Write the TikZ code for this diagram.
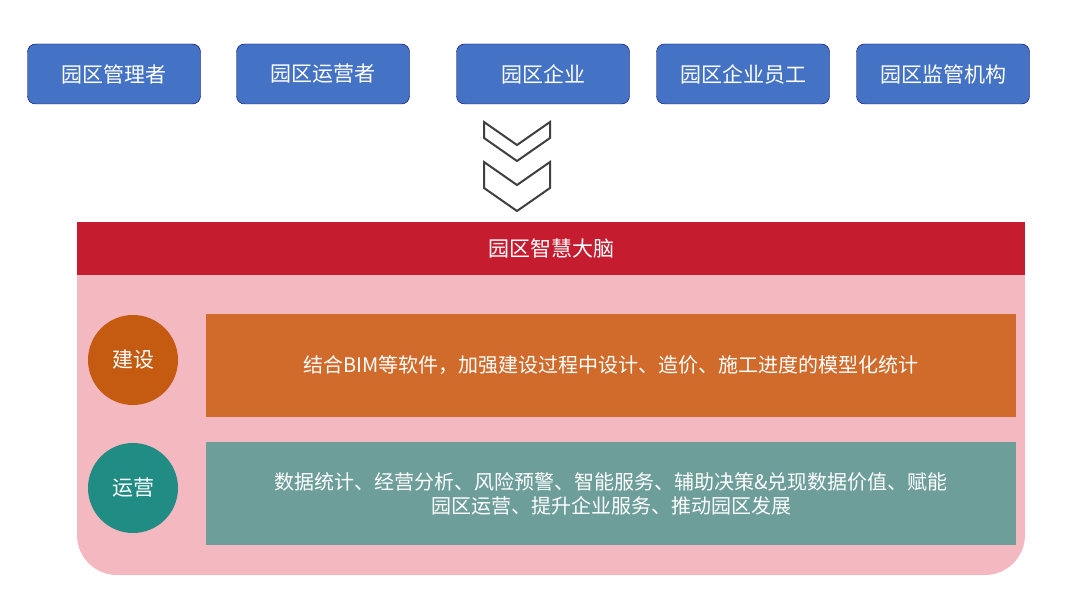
\documentclass[tikz,border=0pt]{standalone}
\usepackage{fontspec}
\setmainfont{Noto Sans CJK SC}
\begin{document}
\begin{tikzpicture}[x=1pt,y=-1pt,
 top/.style={draw=blue!40!black,fill=topblue,rounded corners=8pt,minimum width=173pt,minimum height=60pt,text=white,font=\fontsize{21}{24}\selectfont},
 circ/.style={circle,minimum size=90pt,text=white,font=\fontsize{21}{24}\selectfont},
 bar/.style={minimum width=810pt,minimum height=103pt,text=white,font=\fontsize{20}{24}\selectfont,align=center,text width=790pt},
 chev/.style={draw=black!75,line width=2pt,fill=white}]
\definecolor{topblue}{HTML}{4472C4}
\definecolor{redbar}{HTML}{C61C30}
\definecolor{pinkbg}{HTML}{F4B8C0}
\definecolor{orc}{HTML}{C55A11}
\definecolor{orb}{HTML}{D06B2C}
\definecolor{tlc}{HTML}{218C83}
\definecolor{tlb}{HTML}{6D9E9A}
\useasboundingbox (0,0) rectangle (1083,604);
\node[top] (a) at (114,74) {园区管理者};
\node[top] (b) at (323,74) {园区运营者};
\node[top] (c) at (543,74) {园区企业};
\node[top] (d) at (743,74) {园区企业员工};
\node[top] (e) at (943,74) {园区监管机构};
\draw[chev] (484,122) -- (517,145) -- (550,122) -- (550,138) -- (517,161) -- (484,138) -- cycle;
\draw[chev] (484,162) -- (517,185) -- (550,162) -- (550,188) -- (517,211) -- (484,188) -- cycle;
\fill[pinkbg,rounded corners=40pt] (77,240) -- (77,575) -- (1025,575) -- (1025,240) -- cycle;
\fill[pinkbg] (77,240) rectangle (1025,300);
\node[fill=redbar,minimum width=948pt,minimum height=53pt,text=white,font=\fontsize{21}{24}\selectfont] (r) at (551,248.5) {园区智慧大脑};
\node[circ,fill=orc] (c1) at (133,360) {建设};
\node[bar,fill=orb] (b1) at (611,365.5) {结合BIM等软件，加强建设过程中设计、造价、施工进度的模型化统计};
\node[circ,fill=tlc] (c2) at (133,488) {运营};
\node[bar,fill=tlb] (b2) at (611,493.5) {数据统计、经营分析、风险预警、智能服务、辅助决策\&兑现数据价值、赋能\\园区运营、提升企业服务、推动园区发展};
\end{tikzpicture}
\end{document}
